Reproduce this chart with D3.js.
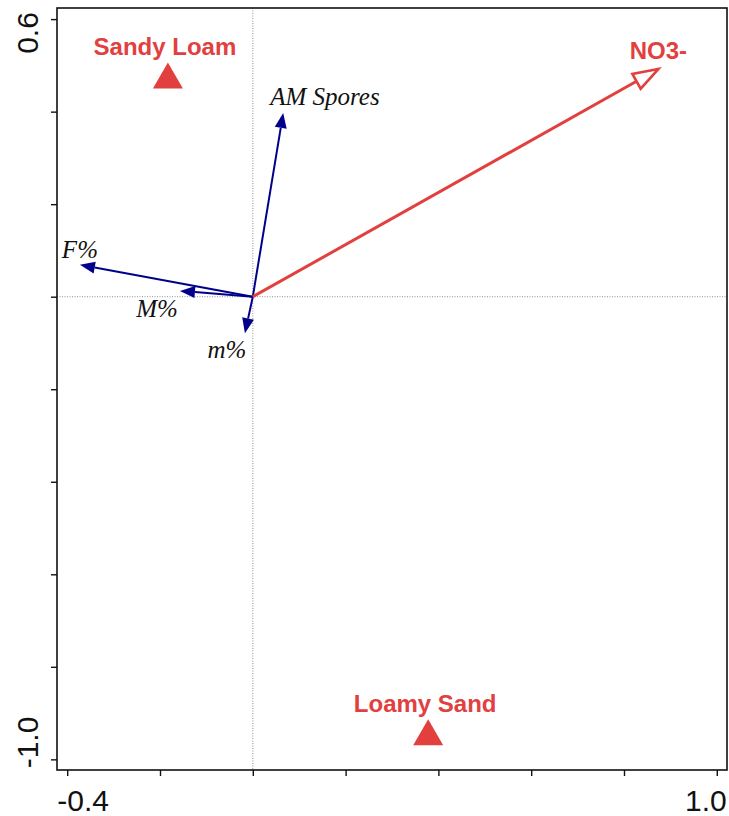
<!DOCTYPE html>
<html>
<head>
<meta charset="utf-8">
<script src="https://cdn.jsdelivr.net/npm/d3@7"></script>
<style>
  body { margin: 0; background: #fff; }
  svg { display: block; }
</style>
</head>
<body>
<div id="chart"></div>
<script>
// Sites (triangles)
const siteNames = ['Sandy Loam', 'Loamy Sand'];
const siteX = [-0.183, 0.378];
const siteY = [0.469, -0.951];

// Response arrows (blue)
const speciesNames = ['AM Spores', 'F%', 'M%', 'm%'];
const speciesX = [0.0655, -0.3726, -0.157, -0.017];
const speciesY = [0.397, 0.0688, 0.0125, -0.079];

// Environmental arrow (red)
const envNames = ['NO3-'];
const envX = [0.874];
const envY = [0.492];

// Axis ticks
const xTicks = [-0.4, -0.2, 0, 0.2, 0.4, 0.6, 0.8, 1.0];
const yTicks = [-1.0, -0.8, -0.6, -0.4, -0.2, 0, 0.2, 0.4, 0.6];
const xTickLabels = ['-0.4', '', '', '', '', '', '', '1.0'];
const yTickLabels = ['-1.0', '', '', '', '', '', '', '', '0.6'];

const width = 729, height = 816;
const frame = { left: 57, right: 727, top: 8, bottom: 770 };
const red = '#e2403f';
const blue = '#00008b';

const svg = d3.select('#chart').append('svg')
  .attr('width', width)
  .attr('height', height);

const x = d3.scaleLinear().domain([-0.422, 1.022]).range([frame.left, frame.right]);
const y = d3.scaleLinear().domain([-1.023, 0.624]).range([frame.bottom, frame.top]);

// zero lines
svg.append('line')
  .attr('x1', x(0)).attr('x2', x(0))
  .attr('y1', frame.top).attr('y2', frame.bottom)
  .attr('stroke', '#777').attr('stroke-width', 0.8)
  .attr('stroke-dasharray', '1,1.5');
svg.append('line')
  .attr('x1', frame.left).attr('x2', frame.right)
  .attr('y1', y(0)).attr('y2', y(0))
  .attr('stroke', '#777').attr('stroke-width', 0.8)
  .attr('stroke-dasharray', '1,1.5');

// frame
svg.append('rect')
  .attr('x', frame.left).attr('y', frame.top)
  .attr('width', frame.right - frame.left)
  .attr('height', frame.bottom - frame.top)
  .attr('fill', 'none').attr('stroke', '#111').attr('stroke-width', 1.6);

// axes (ticks only, labels added below)
const xAxis = svg.append('g')
  .attr('transform', `translate(0,${frame.bottom})`)
  .call(d3.axisBottom(x).tickValues(xTicks).tickSize(6).tickFormat(''));
const yAxis = svg.append('g')
  .attr('transform', `translate(${frame.left},0)`)
  .call(d3.axisLeft(y).tickValues(yTicks).tickSize(6).tickFormat(''));
[xAxis, yAxis].forEach(g => {
  g.select('.domain').remove();
  g.selectAll('line').attr('stroke', '#111').attr('stroke-width', 1.4);
});

const tickFont = '"Liberation Sans", Arial, sans-serif';
xTicks.forEach((v, i) => {
  if (!xTickLabels[i]) return;
  const first = i === 0;
  svg.append('text')
    .attr('x', x(v) + (first ? -10 : 10))
    .attr('y', 811)
    .attr('text-anchor', first ? 'start' : 'end')
    .attr('font-family', tickFont)
    .attr('font-size', 30)
    .attr('fill', '#111')
    .text(xTickLabels[i]);
});
yTicks.forEach((v, i) => {
  if (!yTickLabels[i]) return;
  const first = i === 0;
  svg.append('text')
    .attr('transform', `translate(38,${y(v) + (first ? 9 : -7)}) rotate(-90)`)
    .attr('text-anchor', first ? 'start' : 'end')
    .attr('font-family', tickFont)
    .attr('font-size', 30)
    .attr('fill', '#111')
    .text(yTickLabels[i]);
});

// arrow helper: returns base point and head polygon
function arrowGeom(vx, vy, headLen, halfW) {
  const x0 = x(0), y0 = y(0), x1 = x(vx), y1 = y(vy);
  const dx = x1 - x0, dy = y1 - y0;
  const len = Math.sqrt(dx * dx + dy * dy);
  const ux = dx / len, uy = dy / len;
  const bx = x1 - ux * headLen, by = y1 - uy * headLen;
  const pts = [[x1, y1], [bx - uy * halfW, by + ux * halfW], [bx + uy * halfW, by - ux * halfW]];
  return { x0, y0, x1, y1, bx, by, pts };
}

// blue arrows
const speciesOffsets = [[-13, -8, 'start'], [0, -7, 'middle'], [-23, 26, 'middle'], [-18, 25, 'middle']];
speciesNames.forEach((name, i) => {
  const a = arrowGeom(speciesX[i], speciesY[i], 15, 6);
  svg.append('line')
    .attr('x1', a.x0).attr('y1', a.y0).attr('x2', a.bx).attr('y2', a.by)
    .attr('stroke', blue).attr('stroke-width', 2);
  svg.append('polygon')
    .attr('points', a.pts.map(p => p.join(',')).join(' '))
    .attr('fill', blue);
  const o = speciesOffsets[i];
  svg.append('text')
    .attr('x', a.x1 + o[0]).attr('y', a.y1 + o[1])
    .attr('text-anchor', o[2])
    .attr('font-family', '"Liberation Serif", "Times New Roman", serif')
    .attr('font-style', 'italic')
    .attr('font-size', 25)
    .attr('fill', '#111')
    .text(name);
});

// red environmental arrow
envNames.forEach((name, i) => {
  const a = arrowGeom(envX[i], envY[i], 25, 8.5);
  svg.append('line')
    .attr('x1', a.x0).attr('y1', a.y0).attr('x2', a.bx).attr('y2', a.by)
    .attr('stroke', red).attr('stroke-width', 3);
  svg.append('polygon')
    .attr('points', a.pts.map(p => p.join(',')).join(' '))
    .attr('fill', '#fff').attr('stroke', red).attr('stroke-width', 2.6)
    .attr('stroke-linejoin', 'miter');
  svg.append('text')
    .attr('x', a.x1).attr('y', a.y1 - 10)
    .attr('text-anchor', 'middle')
    .attr('font-family', tickFont)
    .attr('font-weight', 'bold')
    .attr('font-size', 24)
    .attr('fill', red)
    .text(name);
});

// sites
const tri = d3.symbol().type(d3.symbolTriangle).size(390);
siteNames.forEach((name, i) => {
  svg.append('path')
    .attr('d', tri())
    .attr('transform', `translate(${x(siteX[i])},${y(siteY[i])})`)
    .attr('fill', red);
  svg.append('text')
    .attr('x', x(siteX[i]) - 3).attr('y', y(siteY[i]) - 25)
    .attr('text-anchor', 'middle')
    .attr('font-family', tickFont)
    .attr('font-weight', 'bold')
    .attr('font-size', 24)
    .attr('fill', red)
    .text(name);
});
</script>
</body>
</html>
